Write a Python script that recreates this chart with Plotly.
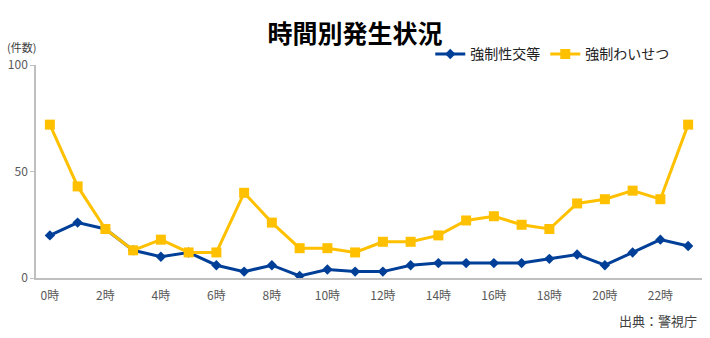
import plotly.graph_objects as go

# Hours of the day (0時〜23時)
hours = list(range(24))
hour_labels = [f"{h}時" for h in hours]

# Number of cases per hour
rape_counts = [20, 26, 23, 13, 10, 12, 6, 3, 6, 1, 4, 3,
               3, 6, 7, 7, 7, 7, 9, 11, 6, 12, 18, 15]
indecent_counts = [72, 43, 23, 13, 18, 12, 12, 40, 26, 14, 14, 12,
                   17, 17, 20, 27, 29, 25, 23, 35, 37, 41, 37, 72]

series_names = ["強制性交等", "強制わいせつ"]
y_ticks = [0, 50, 100]

FONT = "Noto Sans CJK JP"
BLUE = "#003F98"
YELLOW = "#FFC000"

fig = go.Figure()
fig.add_trace(go.Scatter(
    x=hours, y=rape_counts, name=series_names[0], mode="lines+markers",
    line=dict(color=BLUE, width=3),
    marker=dict(symbol="diamond", size=8, color=BLUE),
))
fig.add_trace(go.Scatter(
    x=hours, y=indecent_counts, name=series_names[1], mode="lines+markers",
    line=dict(color=YELLOW, width=3),
    marker=dict(symbol="square", size=10, color=YELLOW),
))

fig.update_layout(
    width=710, height=338,
    margin=dict(l=34, r=8, t=65, b=60),
    paper_bgcolor="white", plot_bgcolor="white",
    font=dict(family=FONT, color="#595959", size=12),
    title=dict(text="<b>時間別発生状況</b>", x=0.5, xanchor="center",
               y=0.9, yanchor="middle",
               font=dict(family=FONT, size=25, color="black")),
    legend=dict(orientation="h", x=0.592, xanchor="left", y=1.05, yanchor="middle",
                font=dict(family=FONT, size=14, color="#222222"),
                bgcolor="rgba(0,0,0,0)", itemwidth=30, tracegroupgap=0),
    showlegend=True,
)

fig.update_xaxes(
    range=[-0.5, 23.5], tickmode="array",
    tickvals=hours[::2], ticktext=hour_labels[::2],
    showgrid=False, zeroline=False,
    showline=True, linecolor="#BFBFBF", linewidth=1.5,
    ticks="", ticklabelstandoff=6, tickfont=dict(size=12, color="#595959"),
)
fig.update_yaxes(
    range=[0, 100], tickvals=y_ticks,
    showgrid=False, zeroline=False,
    showline=True, linecolor="#BFBFBF", linewidth=1.5,
    ticks="outside", ticklen=4, tickcolor="#BFBFBF",
    tickfont=dict(size=12, color="#595959"),
)

fig.add_annotation(text="(件数)", xref="paper", yref="paper", x=-0.046, y=1.085,
                   xanchor="left", yanchor="middle", showarrow=False,
                   font=dict(family=FONT, size=11, color="#404040"))
fig.add_annotation(text="出典：警視庁", xref="paper", yref="paper", x=0.995, y=-0.2,
                   xanchor="right", yanchor="middle", showarrow=False,
                   font=dict(family=FONT, size=13, color="#404040"))

fig.write_html("out.html")
